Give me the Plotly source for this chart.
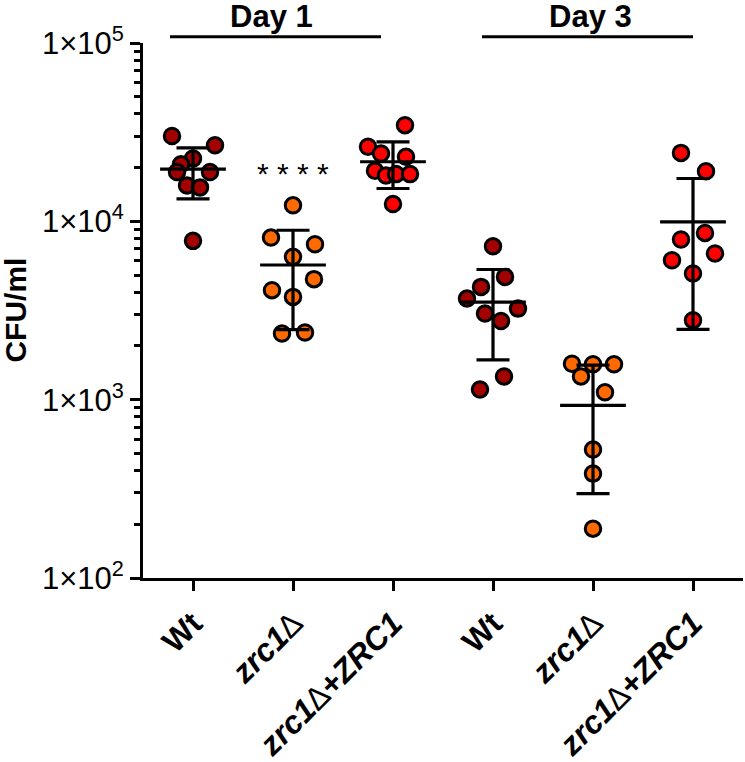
import plotly.graph_objects as go
import numpy as np

# ---------------- data ----------------
tick_labels = [
    "<b>Wt</b>",
    "<b><i>zrc1</i></b><i>\u2206</i>",
    "<b><i>zrc1</i></b><i>\u2206</i><b><i>+ZRC1</i></b>",
    "<b>Wt</b>",
    "<b><i>zrc1</i></b><i>\u2206</i>",
    "<b><i>zrc1</i></b><i>\u2206</i><b><i>+ZRC1</i></b>",
]
group_colors = ["#A30000", "#FF6A00", "#FF0000", "#A30000", "#FF6A00", "#FF0000"]

d1_wt = [30100, 26700, 22500, 20900, 18900, 18900, 15900, 15500, 7770]
d1_zrc = [12300, 8110, 7440, 6320, 4740, 4110, 3770, 2350, 2380]
d1_comp = [34600, 26200, 24000, 23000, 19200, 18100, 18400, 18400, 12500]
d3_wt = [7250, 4880, 4290, 3690, 3040, 3240, 2760, 1350, 1140]
d3_zrc = [1590, 1580, 1580, 1350, 1100, 525, 385, 189]
d3_comp = [24200, 19100, 8610, 7910, 6050, 6600, 5100, 2790]
groups = [d1_wt, d1_zrc, d1_comp, d3_wt, d3_zrc, d3_comp]

# horizontal scatter offsets of each point (category units)
offsets = [
    [-0.21, 0.22, 0.00, -0.12, -0.16, 0.17, -0.06, 0.07, 0.00],
    [0.00, -0.22, 0.22, 0.00, 0.21, -0.21, 0.00, -0.11, 0.12],
    [0.12, -0.25, -0.12, 0.13, -0.18, -0.07, 0.03, 0.17, 0.00],
    [0.00, 0.12, -0.12, -0.26, -0.08, 0.25, 0.08, 0.11, -0.13],
    [-0.21, 0.00, 0.21, -0.12, 0.12, 0.00, 0.00, 0.00],
    [-0.12, 0.13, 0.12, -0.12, -0.21, 0.22, 0.00, 0.00],
]

means = [19600, 5690, 21580, 3520, 930, 9930]
sds = [6250, 3220, 6300, 1850, 633, 7450]

day_labels = ["Day 1", "Day 3"]
day_spans = [(-0.23, 1.88), (2.89, 5.00)]
day_label_x = [0.785, 3.97]
significance = {"group": 1, "text": "* * * *", "value": 18500}

# ---------------- figure ----------------
fig = go.Figure()

for i, (vals, offs) in enumerate(zip(groups, offsets)):
    fig.add_trace(go.Scatter(
        x=[i + o for o in offs], y=vals, mode="markers",
        marker=dict(size=15.5, color=group_colors[i],
                    line=dict(color="black", width=3)),
        hoverinfo="skip", showlegend=False,
    ))

cats = list(range(len(means)))
# SD error bars
fig.add_trace(go.Scatter(
    x=cats, y=means, mode="markers",
    marker=dict(size=1, color="rgba(0,0,0,0)"),
    error_y=dict(type="data", array=sds, symmetric=True,
                 color="black", thickness=3.2, width=16.5),
    hoverinfo="skip", showlegend=False,
))
# mean lines
fig.add_trace(go.Scatter(
    x=cats, y=means, mode="markers",
    marker=dict(symbol="line-ew", size=47, color="black",
                line=dict(color="black", width=3.2)),
    hoverinfo="skip", showlegend=False,
))

# group headers
for lab, (x0, x1), lx in zip(day_labels, day_spans, day_label_x):
    fig.add_shape(type="line", xref="x", yref="paper", x0=x0, x1=x1,
                  y0=1.0115, y1=1.0115, line=dict(color="black", width=3))
    fig.add_annotation(x=lx, y=1.0125, xref="x", yref="paper",
                       text="<b>%s</b>" % lab, showarrow=False,
                       yanchor="bottom", font=dict(size=31, color="black"))

fig.add_annotation(x=significance["group"], y=np.log10(significance["value"]),
                   xref="x", yref="y", text=significance["text"],
                   showarrow=False, font=dict(size=30, color="black"))

# y-axis title
fig.add_annotation(x=-0.244, y=0.5, xref="paper", yref="paper",
                   text="<b>CFU/ml</b>", textangle=-90, showarrow=False,
                   font=dict(size=30, color="black"))

major = [100, 1000, 10000, 100000]
major_text = ["1\u00d710<sup>2</sup>", "1\u00d710<sup>3</sup>",
              "1\u00d710<sup>4</sup>", "1\u00d710<sup>5</sup>"]
minor_vals = [m * k for m in major[:-1] for k in range(2, 10)]

fig.update_layout(
    width=745, height=762,
    margin=dict(l=143, r=2, t=43, b=184),
    paper_bgcolor="white", plot_bgcolor="white",
    font=dict(family="Arial, Liberation Sans, sans-serif", color="black"),
    xaxis=dict(
        range=[-0.5, 5.5], tickmode="array", tickvals=cats, ticktext=tick_labels,
        tickangle=-45, ticks="outside", ticklen=10, tickwidth=3,
        tickcolor="black", showline=True, linewidth=3, linecolor="black",
        showgrid=False, zeroline=False, tickfont=dict(size=32),
        ticklabelstandoff=1, automargin=False,
    ),
    yaxis=dict(
        type="log", range=[2, 5], tickmode="array", tickvals=major,
        ticktext=major_text, ticks="outside", ticklen=10, tickwidth=3,
        tickcolor="black", showline=True, linewidth=3, linecolor="black",
        showgrid=False, zeroline=False, tickfont=dict(size=31),
        automargin=False,
        minor=dict(tickvals=minor_vals, ticks="outside", ticklen=6,
                   tickwidth=2.5, tickcolor="black", showgrid=False),
    ),
)

fig.write_html("out.html", config={"displayModeBar": False},
               post_script="document.body.style.margin='0px';")
